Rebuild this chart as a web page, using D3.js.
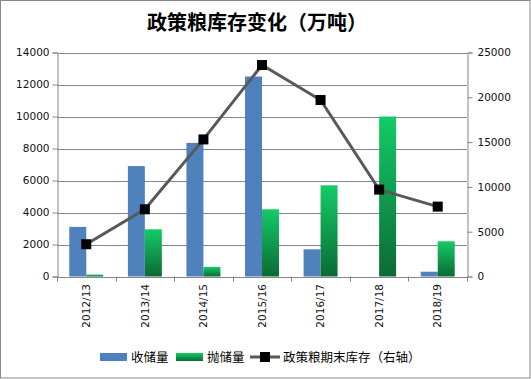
<!DOCTYPE html>
<html><head><meta charset="utf-8">
<script src="https://cdn.jsdelivr.net/npm/d3@7"></script>
<style>body{margin:0;background:#fff}svg{display:block}</style>
</head><body>
<script>
const categories = ["2012/13","2013/14","2014/15","2015/16","2016/17","2017/18","2018/19"];
const purchase = [3100, 6900, 8350, 12500, 1700, 0, 300];
const auction = [120, 2950, 600, 4200, 5700, 10000, 2200];
const stock = [3600, 7500, 15300, 23600, 19700, 9700, 7800];
const leftTicks = [0,2000,4000,6000,8000,10000,12000,14000];
const rightTicks = [0,5000,10000,15000,20000,25000];
const seriesNames = ["收储量","抛储量","政策粮期末库存（右轴）"];

const W=531,H=379;
const m={l:57,r:64,t:52.5,b:102.5};
const svg=d3.select("body").append("svg").attr("width",W).attr("height",H);
svg.append("rect").attr("x",0.5).attr("y",0.5).attr("width",W-1.5).attr("height",H-1.5).attr("fill","#fff").attr("stroke","#888");

const defs=svg.append("defs");
const g1=defs.append("linearGradient").attr("id","gg").attr("x1",0).attr("y1",0).attr("x2",0).attr("y2",1);
g1.append("stop").attr("offset","0%").attr("stop-color","#14CB67");
g1.append("stop").attr("offset","100%").attr("stop-color","#0B6A35");

const x=d3.scaleBand().domain(categories).range([m.l,W-m.r]).paddingInner(0.42).paddingOuter(0.21);
const x0=d3.scaleBand().domain(categories).range([m.l,W-m.r]);
const yL=d3.scaleLinear().domain([0,14000]).range([H-m.b,m.t]);
const yR=d3.scaleLinear().domain([0,25000]).range([H-m.b,m.t]);
const bw=x.bandwidth()/2;

svg.append("text").attr("x",257).attr("y",30).attr("text-anchor","middle")
  .style("font-family","'Noto Sans CJK SC'").style("font-weight","bold").style("font-size","20px").attr("fill","#000")
  .text("政策粮库存变化（万吨）");

// gridlines
svg.append("g").selectAll("line").data(leftTicks.slice(1)).join("line")
  .attr("x1",m.l).attr("x2",W-m.r).attr("y1",d=>Math.round(yL(d))+0.5).attr("y2",d=>Math.round(yL(d))+0.5)
  .attr("stroke","#868686");

// axes
const axL=svg.append("g").attr("transform",`translate(${m.l+0.5},0)`)
  .call(d3.axisLeft(yL).tickValues(leftTicks).tickSize(5).tickPadding(3).tickFormat(d3.format("d")));
const axR=svg.append("g").attr("transform",`translate(${W-m.r+0.5},0)`)
  .call(d3.axisRight(yR).tickValues(rightTicks).tickSize(5).tickPadding(5).tickFormat(d3.format("d")));
const axB=svg.append("g").attr("transform",`translate(0,${H-m.b+0.5})`)
  .call(d3.axisBottom(x0).tickSize(0).tickFormat(d=>d));
[axL,axR].forEach(a=>{a.select(".domain").attr("stroke","#868686");a.selectAll(".tick line").attr("stroke","#868686");
  a.selectAll("text").style("font-family","'DejaVu Sans'").style("font-size","10.5px").attr("fill","#111");});
axB.select(".domain").attr("stroke","#868686");
axB.selectAll(".tick text").style("font-family","'DejaVu Sans'").style("font-size","10.5px").attr("fill","#111")
  .attr("transform","rotate(-90)").attr("text-anchor","end").attr("x",-7).attr("y",0).attr("dy","0.35em");
// category boundary ticks
svg.append("g").selectAll("line").data(categories.concat(["end"])).join("line")
  .attr("x1",(d,i)=>Math.round(i<categories.length?x0(d):x0.range()[1])+0.5)
  .attr("x2",(d,i)=>Math.round(i<categories.length?x0(d):x0.range()[1])+0.5)
  .attr("y1",H-m.b).attr("y2",H-m.b+5).attr("stroke","#868686");

// bars
svg.append("g").selectAll("rect").data(purchase).join("rect")
  .attr("x",(d,i)=>x(categories[i])).attr("width",bw)
  .attr("y",d=>yL(d)).attr("height",d=>yL(0)-yL(d)).attr("fill","#4F81BD");
svg.append("g").selectAll("rect").data(auction).join("rect")
  .attr("x",(d,i)=>x(categories[i])+bw).attr("width",bw)
  .attr("y",d=>yL(d)).attr("height",d=>yL(0)-yL(d)).attr("fill","url(#gg)");

// line
const cx=c=>x0(c)+x0.bandwidth()/2;
svg.append("path").datum(stock).attr("fill","none").attr("stroke","#595959").attr("stroke-width",3)
  .attr("d",d3.line().x((d,i)=>cx(categories[i])).y(d=>yR(d)));
svg.append("g").selectAll("rect").data(stock).join("rect")
  .attr("x",(d,i)=>cx(categories[i])-5).attr("y",d=>yR(d)-5).attr("width",10).attr("height",10).attr("fill","#000");

// legend
const lg=svg.append("g").style("font-family","'Noto Sans CJK SC'").style("font-size","12.5px");
lg.append("rect").attr("x",100).attr("y",353).attr("width",27).attr("height",8).attr("fill","#4F81BD");
lg.append("text").attr("x",131).attr("y",361.5).text(seriesNames[0]);
lg.append("rect").attr("x",176).attr("y",353).attr("width",27).attr("height",8).attr("fill","url(#gg)");
lg.append("text").attr("x",207).attr("y",361.5).text(seriesNames[1]);
lg.append("line").attr("x1",250).attr("x2",280).attr("y1",357).attr("y2",357).attr("stroke","#595959").attr("stroke-width",3);
lg.append("rect").attr("x",260).attr("y",352).attr("width",10).attr("height",10).attr("fill","#000");
lg.append("text").attr("x",283).attr("y",361.5).text(seriesNames[2]);
</script>
</body></html>
